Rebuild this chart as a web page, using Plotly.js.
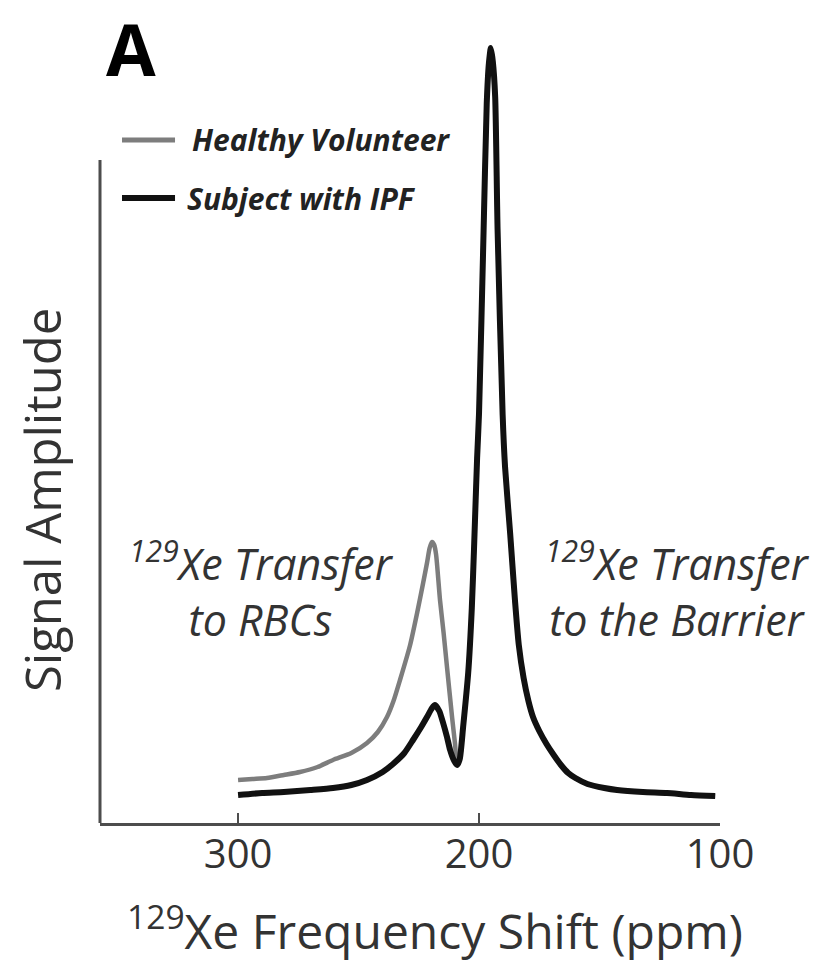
<!DOCTYPE html>
<html>
<head>
<meta charset="utf-8">
<script src="https://cdn.plot.ly/plotly-3.0.1.min.js"></script>
<style>
  html, body { margin: 0; padding: 0; background: #fff; }
  #chart { width: 825px; height: 969px; }
</style>
</head>
<body>
<div id="chart"></div>
<script>
// ---- Data (ppm, signal amplitude in arbitrary units) ----
const seriesNames = ["Healthy Volunteer", "Subject with IPF"];

const ppmHealthy = [300, 294, 288, 281, 274.3, 267, 260.6, 253, 246.5, 242, 238.2, 235.5, 232.8, 228.6, 225.7, 223.2, 221.6, 220.5, 219.5, 218.6, 217.8, 216.2, 214.7, 213.3, 211.2, 210, 209.1,
  208, 206.6, 204.5, 203, 202, 200.8, 200, 198.1, 196.8, 195.9, 195.1, 194.3, 193.3, 192.3, 190.2, 189.2, 187.1, 185.1, 183.5, 181.5, 179.5, 177.6, 175, 172, 169, 166, 163, 160, 155, 148, 142.7, 132, 122, 112, 102];
const ampHealthy = [43, 44, 45, 48, 51, 56, 63, 70, 80, 91, 106, 122, 143, 178, 210, 240, 260, 275, 281, 278, 268, 223, 190, 156, 106, 80, 60,
  64, 96, 150, 215, 280, 365, 410, 593, 720, 760, 775, 762, 726, 593, 408, 356, 290, 223, 178, 145, 122, 106, 92, 79, 68, 58, 50, 45, 39, 35, 33, 31, 30, 28, 27];

const ppmIPF = [300, 290, 281, 270, 260.6, 253, 246.5, 240, 235.7, 231, 227.4, 224, 221.6, 219.5, 218.3, 216.5, 214.9, 213.3, 212, 210.5, 209.1,
  208, 206.6, 204.5, 203, 202, 200.8, 200, 198.1, 196.8, 195.9, 195.1, 194.3, 193.3, 192.3, 190.2, 189.2, 187.1, 185.1, 183.5, 181.5, 179.5, 177.6, 175, 172, 169, 166, 163, 160, 155, 148, 142.7, 132, 122, 112, 102];
const ampIPF = [28, 30, 31, 33, 35, 38, 43, 51, 59, 70, 83, 96, 106, 115, 118, 112, 100, 86, 73, 63, 58,
  64, 96, 150, 215, 280, 365, 410, 593, 720, 760, 775, 762, 726, 593, 408, 356, 290, 223, 178, 145, 122, 106, 92, 79, 68, 58, 50, 45, 39, 35, 33, 31, 30, 28, 27];

const tickValues = [300, 200, 100];
const tickLabels = ["300", "200", "100"];

const xTitle = "<sup>129</sup>Xe Frequency Shift (ppm)";
const yTitle = "Signal Amplitude";
const panelLabel = "A";
const rbcLabel = "<sup>129</sup>Xe Transfer<br>to RBCs";
const barrierLabel = "<sup>129</sup>Xe Transfer<br>to the Barrier";

// ---- Styling ----
const FONT = "'Open Sans', 'Noto Sans', sans-serif";
const grayColor = "#7d7d7d";
const blackColor = "#111111";
const axisColor = "#4d4d4d";
const textColor = "#333333";

const traces = [
  {
    x: ppmHealthy, y: ampHealthy, name: seriesNames[0], type: "scatter", mode: "lines",
    line: { color: grayColor, width: 4.5, shape: "spline", smoothing: 0.6 },
    hoverinfo: "skip", showlegend: false
  },
  {
    x: ppmIPF, y: ampIPF, name: seriesNames[1], type: "scatter", mode: "lines",
    line: { color: blackColor, width: 6, shape: "spline", smoothing: 0.6 },
    hoverinfo: "skip", showlegend: false
  }
];

// plot area: x 100..720 px, y 40..823 px
const layout = {
  width: 825, height: 969,
  margin: { l: 100, r: 105, t: 40, b: 146, pad: 0 },
  paper_bgcolor: "#ffffff", plot_bgcolor: "#ffffff",
  font: { family: FONT, color: textColor },
  showlegend: false,
  xaxis: {
    range: [357.3, 100],
    tickmode: "array", tickvals: tickValues, ticktext: tickLabels,
    ticks: "inside", ticklen: 10, tickwidth: 2, tickcolor: axisColor,
    showline: true, linecolor: axisColor, linewidth: 3,
    showgrid: false, zeroline: false,
    tickfont: { family: FONT, size: 40, color: textColor },
    ticklabelstandoff: -6,
    fixedrange: true
  },
  yaxis: {
    range: [0, 783],
    showline: false, showgrid: false, zeroline: false,
    showticklabels: false, ticks: "",
    fixedrange: true
  },
  shapes: [
    // y-axis line (stops below the top of the plot, as in the reference)
    { type: "line", xref: "paper", yref: "paper", x0: 0, x1: 0, y0: 0, y1: 0.8467,
      line: { color: axisColor, width: 3 } },
    // legend samples
    { type: "line", xref: "paper", yref: "paper", x0: 0.0355, x1: 0.121, y0: 0.8723, y1: 0.8723,
      line: { color: grayColor, width: 5 } },
    { type: "line", xref: "paper", yref: "paper", x0: 0.0355, x1: 0.121, y0: 0.7982, y1: 0.7982,
      line: { color: blackColor, width: 6 } }
  ],
  annotations: [
    { text: panelLabel, xref: "paper", yref: "paper", x: 0.006, y: 0.99, xanchor: "left", yanchor: "middle",
      showarrow: false, font: { family: FONT, size: 72, weight: "bold", color: "#000" } },
    { text: seriesNames[0], xref: "paper", yref: "paper", x: 0.145, y: 0.8723, xanchor: "left", yanchor: "middle",
      showarrow: false, font: { family: FONT, size: 30, weight: "bold", style: "italic", color: "#222" } },
    { text: seriesNames[1], xref: "paper", yref: "paper", x: 0.137, y: 0.7982, xanchor: "left", yanchor: "middle",
      showarrow: false, font: { family: FONT, size: 30, weight: "bold", style: "italic", color: "#222" } },
    { text: rbcLabel, xref: "paper", yref: "paper", x: 0.26, y: 0.2976, xanchor: "center", yanchor: "middle",
      align: "center", showarrow: false, font: { family: FONT, size: 43, style: "italic", color: textColor } },
    { text: barrierLabel, xref: "paper", yref: "paper", x: 0.932, y: 0.2976, xanchor: "center", yanchor: "middle",
      align: "center", showarrow: false, font: { family: FONT, size: 43, style: "italic", color: textColor } },
    { text: yTitle, xref: "paper", yref: "paper", x: -0.0935, y: 0.4125, xanchor: "center", yanchor: "middle",
      textangle: -90, showarrow: false, font: { family: FONT, size: 49, color: textColor } },
    { text: xTitle, xref: "paper", yref: "paper", x: 0.54, y: -0.134, xanchor: "center", yanchor: "middle",
      showarrow: false, font: { family: FONT, size: 48, color: textColor } }
  ]
};

Plotly.newPlot("chart", traces, layout, { staticPlot: true, displayModeBar: false });
</script>
</body>
</html>
